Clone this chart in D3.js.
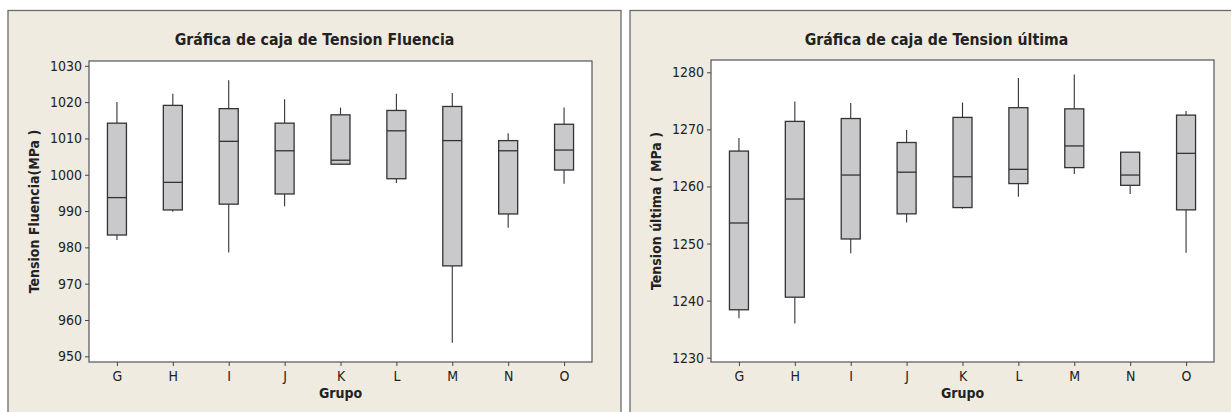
<!DOCTYPE html>
<html>
<head>
<meta charset="utf-8">
<script src="https://cdn.jsdelivr.net/npm/d3@7"></script>
<style>
  body { margin: 0; background: #fff; }
  text { font-family: "DejaVu Sans Condensed", "DejaVu Sans", sans-serif; fill: #222; }
</style>
</head>
<body>
<svg id="chart" width="1231" height="412"></svg>
<script>
// groups on the x axis
const grupos = ["G", "H", "I", "J", "K", "L", "M", "N", "O"];

// Tension Fluencia: whisker low, Q1, median, Q3, whisker high
const fluLow  = [982.0, 989.8, 978.6, 991.3, 1002.7, 997.7, 953.7, 985.4, 997.5];
const fluQ1   = [983.4, 990.3, 991.9, 994.7, 1002.9, 998.9, 974.9, 989.2, 1001.3];
const fluMed  = [993.7, 997.9, 1009.2, 1006.6, 1004.0, 1012.1, 1009.4, 1006.6, 1006.8];
const fluQ3   = [1014.2, 1019.1, 1018.2, 1014.2, 1016.5, 1017.7, 1018.8, 1009.4, 1013.9];
const fluHigh = [1020.0, 1022.3, 1026.0, 1020.8, 1018.5, 1022.3, 1022.5, 1011.4, 1018.5];
const fluTicks = [950, 960, 970, 980, 990, 1000, 1010, 1020, 1030];

// Tension ultima
const ultLow  = [1236.9, 1236.0, 1248.3, 1253.7, 1256.1, 1258.2, 1262.2, 1258.7, 1248.4];
const ultQ1   = [1238.4, 1240.6, 1250.8, 1255.2, 1256.3, 1260.5, 1263.3, 1260.2, 1255.9];
const ultMed  = [1253.6, 1257.8, 1262.0, 1262.5, 1261.7, 1263.0, 1267.1, 1262.0, 1265.8];
const ultQ3   = [1266.2, 1271.4, 1271.9, 1267.7, 1272.1, 1273.8, 1273.6, 1266.0, 1272.5];
const ultHigh = [1268.5, 1274.9, 1274.6, 1269.9, 1274.7, 1279.0, 1279.6, 1266.0, 1273.2];
const ultTicks = [1230, 1240, 1250, 1260, 1270, 1280];

const svg = d3.select("#chart");

function drawPanel(cfg) {
    let g = svg.append("g");

    // beige panel behind everything
    g.append("rect")
     .attr("x", cfg.panelX).attr("y", 10.5)
     .attr("width", cfg.panelW).attr("height", 420)
     .attr("fill", "#efebe1")
     .attr("stroke", "#6b6b6b").attr("stroke-width", 1.3);

    let x = d3.scalePoint().domain(grupos).range([cfg.left, cfg.right]).padding(0.5);
    let y = d3.scaleLinear().domain(cfg.domain).range(cfg.range);

    g.append("rect")
     .attr("x", cfg.left).attr("y", cfg.top)
     .attr("width", cfg.right - cfg.left).attr("height", cfg.bottom - cfg.top)
     .attr("fill", "#fff")
     .attr("stroke", "#555").attr("stroke-width", 1.2);

    g.append("g")
     .attr("transform", "translate(" + cfg.left + ",0)")
     .call(d3.axisLeft(y).tickValues(cfg.ticks).tickSize(4).tickPadding(3).tickFormat(d3.format("d")))
     .call(a => a.select(".domain").remove())
     .call(a => a.selectAll("line").attr("stroke", "#444"))
     .call(a => a.selectAll("text").attr("font-size", "14px").attr("fill", "#222"));

    g.append("g")
     .attr("transform", "translate(0," + cfg.bottom + ")")
     .call(d3.axisBottom(x).tickSize(4).tickPadding(5))
     .call(a => a.select(".domain").remove())
     .call(a => a.selectAll("line").attr("stroke", "#444"))
     .call(a => a.selectAll("text").attr("font-size", "14px").attr("fill", "#222"));

    let rows = grupos.map((k, i) => ({
        k: k, low: cfg.low[i], q1: cfg.q1[i], med: cfg.med[i], q3: cfg.q3[i], high: cfg.high[i]
    }));
    let bw = 19;

    let box = g.append("g").selectAll("g").data(rows).enter().append("g");

    box.append("line")
       .attr("x1", d => x(d.k)).attr("x2", d => x(d.k))
       .attr("y1", d => y(d.high)).attr("y2", d => y(d.q3))
       .attr("stroke", "#333").attr("stroke-width", 1.1);
    box.append("line")
       .attr("x1", d => x(d.k)).attr("x2", d => x(d.k))
       .attr("y1", d => y(d.q1)).attr("y2", d => y(d.low))
       .attr("stroke", "#333").attr("stroke-width", 1.1);
    box.append("rect")
       .attr("x", d => x(d.k) - bw / 2).attr("width", bw)
       .attr("y", d => y(d.q3)).attr("height", d => y(d.q1) - y(d.q3))
       .attr("fill", "#c9c9cb").attr("stroke", "#333").attr("stroke-width", 1.3);
    box.append("line")
       .attr("x1", d => x(d.k) - bw / 2).attr("x2", d => x(d.k) + bw / 2)
       .attr("y1", d => y(d.med)).attr("y2", d => y(d.med))
       .attr("stroke", "#333").attr("stroke-width", 1.3);

    // titles: main title is centred on the panel, the axis titles on the plot
    g.append("text")
     .attr("x", cfg.panelX + 613 / 2).attr("y", 45)
     .attr("text-anchor", "middle")
     .attr("font-size", "15.7px").attr("font-weight", "bold")
     .text(cfg.title);
    g.append("text")
     .attr("x", (cfg.left + cfg.right) / 2).attr("y", 398)
     .attr("text-anchor", "middle")
     .attr("font-size", "14px").attr("font-weight", "bold")
     .text("Grupo");
    g.append("text")
     .attr("transform", "translate(" + cfg.ylabX + "," + (cfg.top + cfg.bottom) / 2 + ") rotate(-90)")
     .attr("text-anchor", "middle")
     .attr("font-size", "14px").attr("font-weight", "bold")
     .text(cfg.ylab);
}

drawPanel({
    panelX: 8, panelW: 613,
    left: 89, right: 592, top: 61, bottom: 362,
    domain: [950, 1030], range: [356.3, 65.8], ticks: fluTicks,
    low: fluLow, q1: fluQ1, med: fluMed, q3: fluQ3, high: fluHigh,
    title: "Gráfica de caja de Tension Fluencia",
    ylab: "Tension Fluencia(MPa )", ylabX: 39
});

drawPanel({
    panelX: 630, panelW: 620,
    left: 711, right: 1214, top: 60, bottom: 362,
    domain: [1230, 1280], range: [357.7, 72.3], ticks: ultTicks,
    low: ultLow, q1: ultQ1, med: ultMed, q3: ultQ3, high: ultHigh,
    title: "Gráfica de caja de Tension última",
    ylab: "Tension última ( MPa )", ylabX: 661
});
</script>
</body>
</html>
